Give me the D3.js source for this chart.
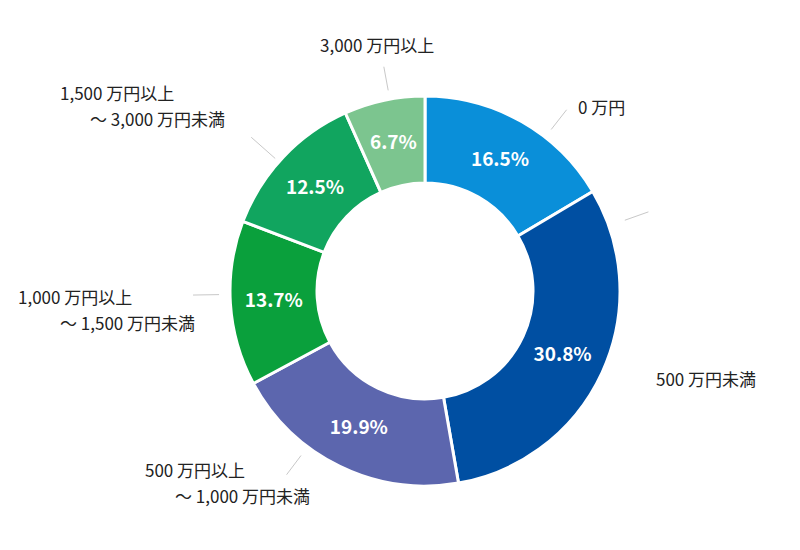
<!DOCTYPE html>
<html>
<head>
<meta charset="utf-8">
<script src="https://cdn.jsdelivr.net/npm/d3@7"></script>
<style>
  body { margin: 0; background: #fff; }
  text { font-family: "Noto Sans CJK JP", "Noto Sans", sans-serif; }
</style>
</head>
<body>
<svg id="chart" width="800" height="550"></svg>
<script>
// Data
var categories = ['0 万円', '500 万円未満', '500 万円以上|～ 1,000 万円未満',
                  '1,000 万円以上|～ 1,500 万円未満', '1,500 万円以上|～ 3,000 万円未満', '3,000 万円以上'];
var shares = [16.5, 30.8, 19.9, 13.7, 12.5, 6.7];
var colors = ['#0a8fd9', '#004fa2', '#5c66ae', '#0aa03c', '#11a55f', '#7cc58f'];

// Label layout: leader angle (deg), radii, text position, second line indent
var labelLayout = [
  { a: 38, r1: 205, r2: 230, x: 578, y: 114, x2: 0 },
  { a: 70.5, r1: 212, r2: 237, x: 656, y: 386, x2: 0 },
  { a: 217, r1: 206, r2: 230, x: 145, y: 477, x2: 175 },
  { a: 269, r1: 206, r2: 232, x: 18, y: 304, x2: 60 },
  { a: 311.5, r1: 200, r2: 232, x: 60, y: 100, x2: 90 },
  { a: 349.6, r1: 204, r2: 228, x: 320, y: 52, x2: 0 }
];

var cx = 425, cy = 291, outerR = 195, innerR = 108;
var svg = d3.select('#chart');
var g = svg.append('g').attr('transform', 'translate(' + cx + ',' + cy + ')');

var pie = d3.pie().sort(null).value(function(d) { return d; });
var arc = d3.arc().innerRadius(innerR).outerRadius(outerR);
var arcs = pie(shares);

g.selectAll('path.slice')
  .data(arcs)
  .enter().append('path')
  .attr('d', arc)
  .attr('fill', function(d, i) { return colors[i]; })
  .attr('stroke', '#fff')
  .attr('stroke-width', 3);

var labelArc = d3.arc().innerRadius((innerR + outerR) / 2).outerRadius((innerR + outerR) / 2);
g.selectAll('text.pct')
  .data(arcs)
  .enter().append('text')
  .attr('transform', function(d) { return 'translate(' + labelArc.centroid(d) + ')'; })
  .attr('text-anchor', 'middle')
  .attr('dy', '0.35em')
  .attr('fill', '#fff')
  .attr('font-size', 19)
  .attr('font-weight', 'bold')
  .text(function(d) { return d.data.toFixed(1) + '%'; });

// leader lines and category labels
labelLayout.forEach(function(L, i) {
  var rad = L.a * Math.PI / 180;
  svg.append('line')
    .attr('x1', cx + L.r1 * Math.sin(rad)).attr('y1', cy - L.r1 * Math.cos(rad))
    .attr('x2', cx + L.r2 * Math.sin(rad)).attr('y2', cy - L.r2 * Math.cos(rad))
    .attr('stroke', '#c8c8c8').attr('stroke-width', 1);
  var parts = categories[i].split('|');
  svg.append('text').attr('x', L.x).attr('y', L.y)
    .attr('font-size', 17).attr('fill', '#222').text(parts[0]);
  if (parts[1]) {
    svg.append('text').attr('x', L.x2).attr('y', L.y + 26)
      .attr('font-size', 17).attr('fill', '#222').text(parts[1]);
  }
});
</script>
</body>
</html>
